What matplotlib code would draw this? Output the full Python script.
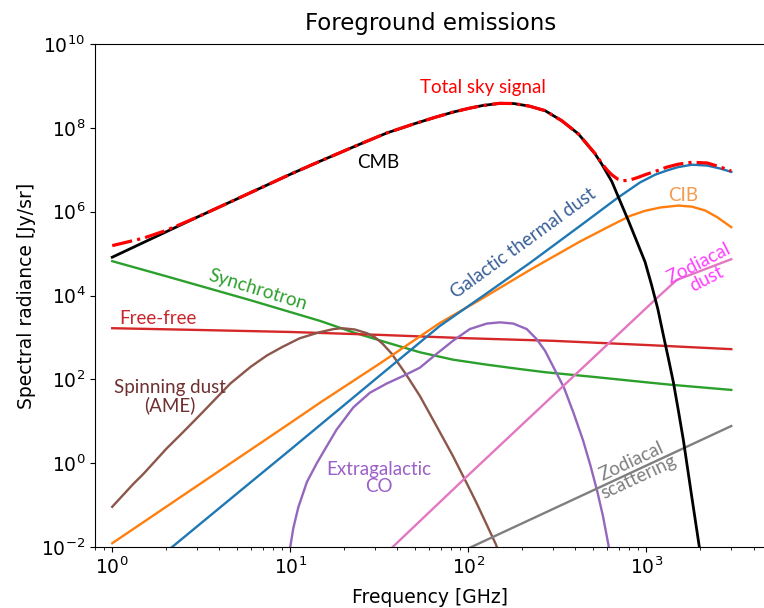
import numpy as np
import matplotlib
matplotlib.use("Agg")
import matplotlib.pyplot as plt
from matplotlib.ticker import LogLocator, NullLocator

# values (frequency in GHz, radiance in Jy/sr)
cmb_f = [1, 2, 3, 5, 10, 15, 25, 35, 50, 65, 82, 100, 120, 150, 180, 220, 270,
         335, 415, 515, 561, 640, 697, 793, 902, 984, 1072, 1160, 1247, 1330,
         1419, 1510, 1614, 1800, 1985, 2100]
cmb_s = [8.2e4, 3.28e5, 7.4e5, 2.0e6, 7.8e6, 1.66e7, 4.2e7, 7.6e7, 1.26e8,
         1.78e8, 2.37e8, 2.9e8, 3.4e8, 3.85e8, 3.8e8, 3.3e8, 2.57e8, 1.48e8,
         7.2e7, 2.4e7, 1.38e7, 5.25e6, 2.22e6, 6.1e5, 1.58e5, 6.3e4, 1.74e4,
         4.8e3, 1.12e3, 316, 85, 19, 3.6, 0.158, 0.01, 1.6e-3]

total_f = [1, 1.5, 2, 3, 5, 10, 15, 25, 35, 50, 65, 82, 100, 120, 150, 180,
           220, 270, 335, 415, 515, 561, 600, 640, 690, 740, 800, 900, 1000,
           1119, 1300, 1500, 1800, 2200, 2600, 3000]
total_s = [1.55e5, 2.34e5, 3.55e5, 7.4e5, 2.0e6, 7.8e6, 1.66e7, 4.2e7, 7.6e7,
           1.26e8, 1.78e8, 2.37e8, 2.9e8, 3.4e8, 3.85e8, 3.8e8, 3.3e8, 2.57e8,
           1.48e8, 7.2e7, 2.45e7, 1.45e7, 1.0e7, 7.6e6, 6.0e6, 5.5e6, 5.6e6,
           6.6e6, 7.8e6, 9.1e6, 1.15e7, 1.35e7, 1.51e7, 1.45e7, 1.17e7, 9.3e6]

sync_f = [1, 2, 5.9, 14.7, 22.6, 34.8, 53.5, 82, 127, 195, 270, 500, 1000,
          1390, 3000]
sync_s = [6.6e4, 2.9e4, 7.85e3, 2.48e3, 1.32e3, 759, 442, 295, 224, 176, 148,
          115, 85, 74, 56]

ff_f = [1, 3, 10, 32, 100, 300, 1000, 3000]
ff_s = [1660, 1510, 1350, 1150, 955, 830, 660, 525]

ame_f = [1, 1.31, 1.5, 2.02, 2.5, 3.11, 4.6, 6, 7.4, 9, 11.3, 14.5, 17.5,
         19.5, 23, 27, 30, 33, 37, 45, 53.5, 67, 82, 100, 111, 143, 150]
ame_s = [0.091, 0.316, 0.56, 2.24, 5.5, 14.1, 79, 200, 372, 589, 955, 1320,
         1585, 1660, 1550, 1260, 1000, 708, 417, 126, 40, 7.1, 1.48, 0.28,
         0.115, 0.0115, 0.0063]

co_f = [9.9, 10, 10.4, 11.1, 12.4, 14.1, 16, 18.2, 22.6, 28, 34.8, 43, 53.5,
        66, 82, 102, 127, 151, 179, 213, 242, 270, 300, 345, 390, 440, 485,
        530, 570, 612, 630]
co_s = [1e-3, 0.01, 0.028, 0.089, 0.355, 1.0, 2.5, 6.3, 21.4, 47.9, 79.4, 120,
        190, 398, 832, 1585, 2140, 2290, 2140, 1585, 912, 479, 200, 63, 15.8,
        3.63, 0.89, 0.214, 0.056, 0.0115, 0.005]

dust_f = [1, 2.17, 5, 10, 30, 69, 121, 222, 424, 690, 923, 1119, 1300, 1500,
          1800, 2200, 2600, 3000]
dust_s = [6.6e-4, 0.01, 0.186, 2.09, 100, 1860, 9.8e3, 6.0e4, 4.57e5, 2.14e6,
          5.0e6, 7.6e6, 9.55e6, 1.15e7, 1.32e7, 1.26e7, 1.07e7, 8.9e6]

cib_f = [1, 3, 10, 14.7, 31.9, 69, 116, 222, 424, 600, 809, 984, 1200, 1513,
         1800, 2137, 2500, 3000]
cib_s = [0.0123, 0.288, 9.1, 27.8, 240, 2190, 7850, 4.08e4, 1.94e5, 4.17e5,
         7.9e5, 1.05e6, 1.26e6, 1.4e6, 1.32e6, 1.07e6, 7.4e5, 4.27e5]

zdust_f = [30, 37.6, 93.7, 1143, 1482, 3000]
zdust_s = [4.1e-3, 0.01, 0.4, 8.6e3, 2.35e4, 7.35e4]

zscat_f = [100, 104, 3000]
zscat_s = [9.3e-3, 0.01, 7.7]

plt.rcParams['font.family'] = 'DejaVu Sans'
lab_font = 'Lato'

fig = plt.figure(figsize=(7.64, 6.08), dpi=100)
ax = fig.add_axes([0.1243, 0.1003, 0.8783, 0.8273])

lw = 1.7
ax.plot(sync_f, sync_s, color='#2ca02c', lw=lw)
ax.plot(ff_f, ff_s, color='#d62728', lw=lw)
ax.plot(ame_f, ame_s, color='#8c564b', lw=lw)
ax.plot(co_f, co_s, color='#9467bd', lw=lw)
ax.plot(zdust_f, zdust_s, color='#e377c2', lw=lw)
ax.plot(zscat_f, zscat_s, color='#7f7f7f', lw=lw)
ax.plot(cib_f, cib_s, color='#ff7f0e', lw=lw)
ax.plot(dust_f, dust_s, color='#1f77b4', lw=lw)
ax.plot(cmb_f, cmb_s, color='black', lw=2.0)
ax.plot(total_f, total_s, color='red', lw=2.3, ls='-.')

ax.set_xscale('log')
ax.set_yscale('log')
ax.set_xlim(0.8, 4700)
ax.set_ylim(1e-2, 1e10)
ax.yaxis.set_major_locator(LogLocator(base=100))
ax.yaxis.set_minor_locator(NullLocator())
ax.xaxis.set_major_locator(LogLocator(base=10))
ax.xaxis.set_minor_locator(LogLocator(base=10, subs=np.arange(2, 10)))
ax.tick_params(labelsize=13.5)
ax.spines['right'].set_visible(False)

ax.set_title('Foreground emissions', fontsize=16.5, pad=10)
ax.set_xlabel('Frequency [GHz]', fontsize=13.5, labelpad=7)
ax.set_ylabel('Spectral radiance [Jy/sr]', fontsize=13.5)

def label(x, y, s, c, rot=0):
    ax.text(x, y, s, color=c, rotation=rot, ha='center', va='center',
            multialignment='center', fontsize=13.5, family=lab_font,
            rotation_mode='anchor', linespacing=1.0)

label(121, 9e8, 'Total sky signal', 'red')
label(31.2, 1.5e7, 'CMB', 'black')
label(203, 1.8e5, 'Galactic thermal dust', '#3a5f97', 36)
label(1607, 2.4e6, 'CIB', '#f39a4e')
label(2080, 3.8e4, 'Zodiacal\ndust', '#ff40ff', 27)
label(6.58, 1.36e4, 'Synchrotron', '#2ca02c', -17)
label(1.81, 2870, 'Free-free', '#c8282d')
label(2.11, 38.6, 'Spinning dust\n(AME)', '#6e3030')
label(31.5, 0.44, 'Extragalactic\nCO', '#9b5fc8')
label(868, 0.71, 'Zodiacal\nscattering', '#7f7f7f', 25)

fig.savefig('out.png', dpi=100)
